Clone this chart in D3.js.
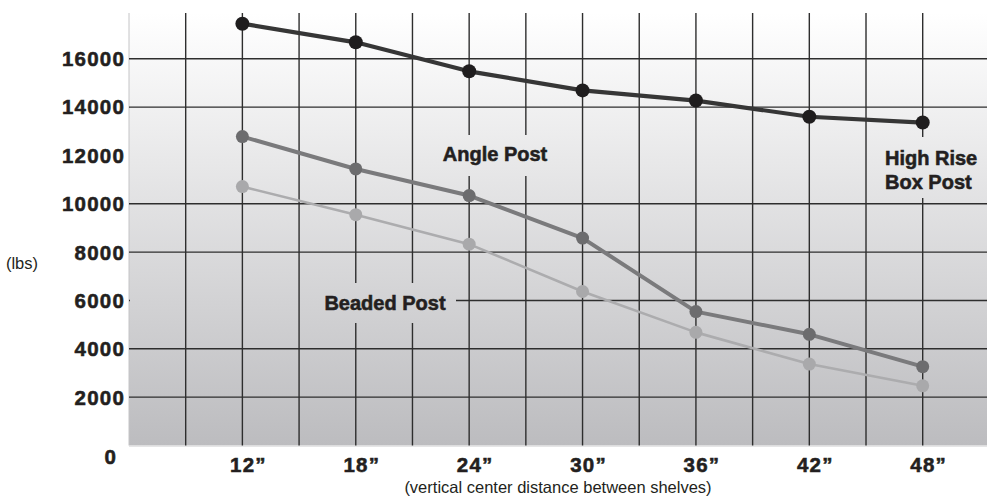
<!DOCTYPE html>
<html>
<head>
<meta charset="utf-8">
<script src="https://cdn.jsdelivr.net/npm/d3@7"></script>
<style>
  html, body { margin: 0; padding: 0; background: #fff; }
  svg { display: block; }
  text { font-family: "Liberation Sans", Arial, sans-serif; fill: #231f20; }
  text.heavy { stroke: #231f20; stroke-width: 0.55px; paint-order: stroke; }
</style>
</head>
<body>
<svg id="chart" width="987" height="499"></svg>
<script>
// Shelf spacing (inches, vertical center distance) and load capacity (lbs)
const spacings = [12, 18, 24, 30, 36, 42, 48];
const spacingLabels = ["12\u201D", "18\u201D", "24\u201D", "30\u201D", "36\u201D", "42\u201D", "48\u201D"];
const highRiseBoxPost = [17450, 16680, 15480, 14690, 14270, 13600, 13360];
const anglePost = [12780, 11440, 10340, 8580, 5540, 4600, 3260];
const beadedPost = [10710, 9550, 8330, 6370, 4680, 3370, 2470];

const yTickValues = [0, 2000, 4000, 6000, 8000, 10000, 12000, 14000, 16000];
const yGridValues = [2000, 4000, 6000, 8000, 10000, 14000, 16000];
const xGridValues = [9, 12, 15, 18, 21, 24, 27, 30, 33, 36, 39, 42, 45, 48];

const W = 987, H = 499;
const plotLeft = 129, plotTop = 13, plotBottom = 445.5;

const svg = d3.select("#chart");

const x = d3.scaleLinear().domain([6, 48]).range([plotLeft, 922.7]);
const y = d3.scaleLinear().domain([0, 18000]).range([plotBottom, 10.4]);

// Vertical grey gradient shared by the plot panel and the label knock-outs
const defs = svg.append("defs");
const grad = defs.append("linearGradient")
  .attr("id", "panel")
  .attr("gradientUnits", "userSpaceOnUse")
  .attr("x1", 0).attr("y1", plotTop).attr("x2", 0).attr("y2", plotBottom);
grad.append("stop").attr("offset", "0%").attr("stop-color", "#ffffff");
grad.append("stop").attr("offset", "100%").attr("stop-color", "#bcbcbf");

svg.append("rect")
  .attr("x", plotLeft).attr("y", plotTop)
  .attr("width", W - plotLeft).attr("height", plotBottom - plotTop)
  .attr("fill", "url(#panel)");

// panel edges
svg.append("line")
  .attr("x1", plotLeft).attr("x2", plotLeft)
  .attr("y1", plotTop).attr("y2", plotBottom)
  .attr("stroke", "#c4c4c6").attr("stroke-width", 1);
svg.append("line")
  .attr("x1", plotLeft).attr("x2", W)
  .attr("y1", plotBottom + 0.5).attr("y2", plotBottom + 0.5)
  .attr("stroke", "#dcdcde").attr("stroke-width", 1.5);

const gridColor = "#2e2e2e";

// Horizontal grid
svg.append("g").selectAll("line").data(yGridValues).join("line")
  .attr("x1", plotLeft).attr("x2", W)
  .attr("y1", d => y(d)).attr("y2", d => y(d))
  .attr("stroke", gridColor).attr("stroke-width", 1.4);

// knock-out behind the "Beaded Post" label (horizontal rules)
svg.append("rect")
  .attr("x", plotLeft + 1).attr("y", 283)
  .attr("width", 456 - plotLeft - 1).attr("height", 40)
  .attr("fill", "url(#panel)");

// Vertical grid
svg.append("g").selectAll("line").data(xGridValues).join("line")
  .attr("x1", d => x(d)).attr("x2", d => x(d))
  .attr("y1", plotTop).attr("y2", plotBottom)
  .attr("stroke", gridColor).attr("stroke-width", 1.4);

// knock-outs behind the series labels (vertical rules)
const knockouts = [
  { x0: 436, x1: 556, y0: 135, y1: 176 },
  { x0: 316, x1: 456, y0: 283, y1: 323 },
  { x0: 878, x1: 987, y0: 137, y1: 198 }
];
svg.append("g").selectAll("rect").data(knockouts).join("rect")
  .attr("x", d => d.x0).attr("y", d => d.y0)
  .attr("width", d => d.x1 - d.x0).attr("height", d => d.y1 - d.y0)
  .attr("fill", "url(#panel)");

// Series
const series = [
  { values: beadedPost, line: "#acacae", width: 2.6, dot: "#a9a9ab", r: 6.5 },
  { values: anglePost, line: "#7a7a7c", width: 4, dot: "#6c6c6e", r: 6.5 },
  { values: highRiseBoxPost, line: "#363636", width: 4.2, dot: "#1f1d1e", r: 7 }
];
const lineGen = d3.line().x((d, i) => x(spacings[i])).y(d => y(d));
series.forEach(s => {
  svg.append("path")
    .attr("d", lineGen(s.values))
    .attr("fill", "none")
    .attr("stroke", s.line)
    .attr("stroke-width", s.width)
    .attr("stroke-linejoin", "round");
  svg.append("g").selectAll("circle").data(s.values).join("circle")
    .attr("cx", (d, i) => x(spacings[i]))
    .attr("cy", d => y(d))
    .attr("r", s.r)
    .attr("fill", s.dot);
});

// Y tick labels
svg.append("g").selectAll("text").data(yTickValues).join("text")
  .attr("class", "heavy")
  .attr("x", d => d === 0 ? 117 : 125)
  .attr("y", d => d === 0 ? 457 : y(d))
  .attr("dy", "0.36em")
  .attr("text-anchor", "end")
  .attr("font-size", 20.5)
  .attr("font-weight", "bold")
  .attr("letter-spacing", 1.2)
  .text(d => d);

// X tick labels
svg.append("g").selectAll("text").data(spacings).join("text")
  .attr("class", "heavy")
  .attr("x", d => x(d) + 6)
  .attr("y", 472)
  .attr("text-anchor", "middle")
  .attr("font-size", 20.5)
  .attr("font-weight", "bold")
  .attr("letter-spacing", 1.2)
  .text((d, i) => spacingLabels[i]);

// Axis titles
svg.append("text")
  .attr("x", 558).attr("y", 493)
  .attr("text-anchor", "middle")
  .attr("font-size", 16.5)
  .text("(vertical center distance between shelves)");
svg.append("text")
  .attr("x", 22).attr("y", 269)
  .attr("text-anchor", "middle")
  .attr("font-size", 16.5)
  .text("(lbs)");

// Series labels
const labelStyle = sel => sel.attr("class", "heavy").attr("font-size", 20).attr("font-weight", "bold");
svg.append("text").call(labelStyle)
  .attr("x", 495).attr("y", 161).attr("text-anchor", "middle")
  .text("Angle Post");
svg.append("text").call(labelStyle)
  .attr("x", 385).attr("y", 310).attr("text-anchor", "middle")
  .text("Beaded Post");
const hr = svg.append("text").call(labelStyle).attr("text-anchor", "start");
hr.append("tspan").attr("x", 885).attr("y", 165).text("High Rise");
hr.append("tspan").attr("x", 885).attr("y", 188.5).text("Box Post");
</script>
</body>
</html>
